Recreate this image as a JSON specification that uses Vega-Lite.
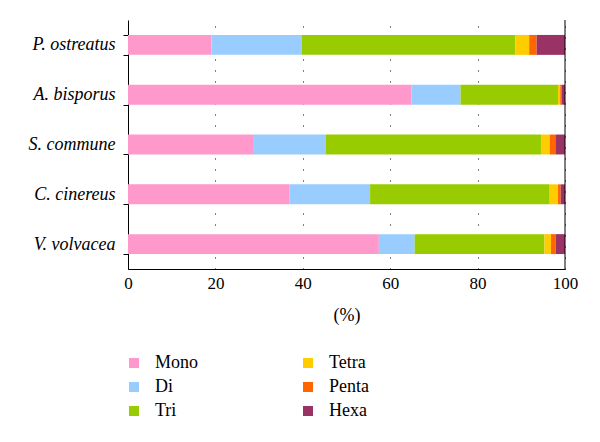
{
  "$schema": "https://vega.github.io/schema/vega-lite/v6.json",
  "autosize": "none",
  "width": 437,
  "height": 249,
  "padding": {"left": 128, "top": 20, "right": 35, "bottom": 173},
  "background": "white",
  "config": {
    "view": {"stroke": null},
    "font": "Liberation Serif",
    "axis": {"labelFont": "Liberation Serif", "titleFont": "Liberation Serif"},
    "legend": {"labelFont": "Liberation Serif", "titleFont": "Liberation Serif"}
  },
  "data": {"values": [
    {"species": "P. ostreatus", "type": "Mono", "k": 1, "pct": 19.1},
    {"species": "P. ostreatus", "type": "Di", "k": 2, "pct": 20.7},
    {"species": "P. ostreatus", "type": "Tri", "k": 3, "pct": 48.8},
    {"species": "P. ostreatus", "type": "Tetra", "k": 4, "pct": 3.2},
    {"species": "P. ostreatus", "type": "Penta", "k": 5, "pct": 1.7},
    {"species": "P. ostreatus", "type": "Hexa", "k": 6, "pct": 6.5},
    {"species": "A. bisporus", "type": "Mono", "k": 1, "pct": 64.9},
    {"species": "A. bisporus", "type": "Di", "k": 2, "pct": 11.2},
    {"species": "A. bisporus", "type": "Tri", "k": 3, "pct": 22.3},
    {"species": "A. bisporus", "type": "Tetra", "k": 4, "pct": 0.5},
    {"species": "A. bisporus", "type": "Penta", "k": 5, "pct": 0.4},
    {"species": "A. bisporus", "type": "Hexa", "k": 6, "pct": 0.7},
    {"species": "S. commune", "type": "Mono", "k": 1, "pct": 28.6},
    {"species": "S. commune", "type": "Di", "k": 2, "pct": 16.7},
    {"species": "S. commune", "type": "Tri", "k": 3, "pct": 49.2},
    {"species": "S. commune", "type": "Tetra", "k": 4, "pct": 2.0},
    {"species": "S. commune", "type": "Penta", "k": 5, "pct": 1.3},
    {"species": "S. commune", "type": "Hexa", "k": 6, "pct": 2.2},
    {"species": "C. cinereus", "type": "Mono", "k": 1, "pct": 37.0},
    {"species": "C. cinereus", "type": "Di", "k": 2, "pct": 18.4},
    {"species": "C. cinereus", "type": "Tri", "k": 3, "pct": 41.1},
    {"species": "C. cinereus", "type": "Tetra", "k": 4, "pct": 1.9},
    {"species": "C. cinereus", "type": "Penta", "k": 5, "pct": 0.6},
    {"species": "C. cinereus", "type": "Hexa", "k": 6, "pct": 1.0},
    {"species": "V. volvacea", "type": "Mono", "k": 1, "pct": 57.4},
    {"species": "V. volvacea", "type": "Di", "k": 2, "pct": 8.2},
    {"species": "V. volvacea", "type": "Tri", "k": 3, "pct": 29.7},
    {"species": "V. volvacea", "type": "Tetra", "k": 4, "pct": 1.5},
    {"species": "V. volvacea", "type": "Penta", "k": 5, "pct": 1.1},
    {"species": "V. volvacea", "type": "Hexa", "k": 6, "pct": 2.1}
  ]},
  "layer": [
    {
      "mark": {"type": "bar"},
      "encoding": {
        "y": {
          "field": "species", "type": "nominal",
          "sort": ["P. ostreatus", "A. bisporus", "S. commune", "C. cinereus", "V. volvacea"],
          "scale": {"paddingInner": 0.6, "paddingOuter": 0.3},
          "axis": {
            "title": null, "domainColor": "black", "tickColor": "black", "tickSize": 5,
            "tickBand": "extent", "labelFontSize": 18, "labelFontStyle": "italic",
            "labelFont": "Liberation Serif",
            "labelColor": "black", "labelPadding": 8
          }
        },
        "x": {
          "field": "pct", "type": "quantitative", "stack": "zero",
          "scale": {"domain": [0, 100], "nice": false},
          "axis": {
            "title": "(%)", "titleFontWeight": "normal", "titleFontSize": 18, "titleColor": "black",
            "titleFont": "Liberation Serif", "labelFont": "Liberation Serif",
            "titlePadding": 15, "values": [0, 20, 40, 60, 80, 100], "labelFlush": false,
            "grid": true, "gridDash": [1, 10], "gridColor": "black", "gridOpacity": 1,
            "domainColor": "black", "ticks": false, "labelFontSize": 17, "labelColor": "black",
            "labelPadding": 6
          }
        },
        "color": {
          "field": "type", "type": "nominal",
          "scale": {
            "domain": ["Mono", "Di", "Tri", "Tetra", "Penta", "Hexa"],
            "range": ["#FF99CC", "#99CCFF", "#99CC00", "#FFCC00", "#FF6600", "#993366"]
          },
          "legend": {
            "orient": "none", "legendX": -3, "legendY": 334, "title": null,
            "columns": 2, "columnPadding": 100, "rowPadding": 6,
            "symbolType": "square", "symbolSize": 100, "symbolStrokeWidth": 0,
            "labelFont": "Liberation Serif",
            "labelFontSize": 18, "labelColor": "black", "labelOffset": 12
          }
        },
        "order": {"field": "k", "type": "quantitative"}
      }
    },
    {
      "data": {"values": [{}]},
      "mark": {"type": "rule", "color": "black", "strokeWidth": 1},
      "encoding": {"x": {"datum": 100}}
    }
  ]
}
